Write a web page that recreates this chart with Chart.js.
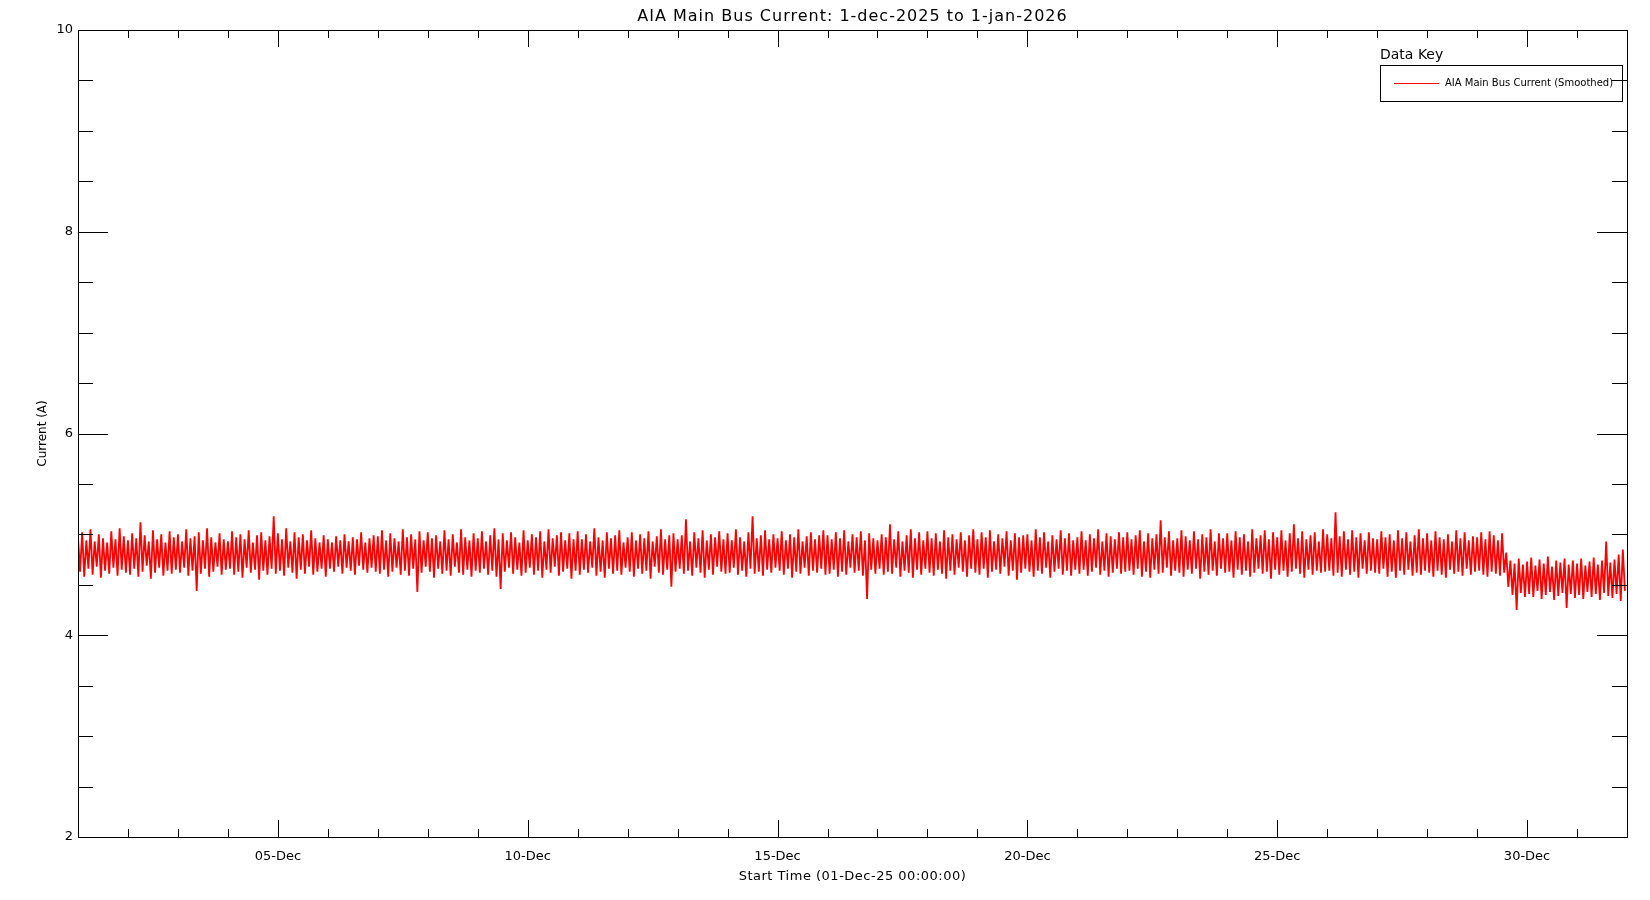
<!DOCTYPE html>
<html>
<head>
<meta charset="utf-8">
<title>AIA Main Bus Current</title>
<script src="https://cdn.jsdelivr.net/npm/chart.js@4.4.1/dist/chart.umd.min.js"></script>
<style>
  body { margin: 0; background: #fff; }
  canvas { display: block; }
</style>
</head>
<body>
<canvas id="busChart" width="1650" height="900"></canvas>
<script>
// Hourly smoothed readings (A), starting 01-Dec-2025 00:00, one row per day.
// Values swing between the top and bottom of the noise band, as in the plot.
const busCurrent = [
  4.97,4.63,5.02,4.58,4.94,4.66,5.05,4.60,4.93,4.68,5.00,4.57,4.96,4.64,4.92,4.61,5.03,4.67,4.95,4.59,5.06,4.65,4.98,4.62,
  4.94,4.60,5.01,4.66,4.96,4.58,5.12,4.63,4.99,4.69,4.93,4.56,5.04,4.62,4.95,4.67,5.00,4.59,4.92,4.64,5.03,4.61,4.97,4.65,
  5.00,4.62,4.93,4.67,5.05,4.59,4.96,4.64,4.98,4.44,5.02,4.61,4.94,4.66,5.06,4.58,4.97,4.63,4.92,4.68,5.01,4.60,4.95,4.65,
  4.93,4.66,5.03,4.60,4.97,4.63,5.00,4.57,4.95,4.67,5.04,4.62,4.92,4.65,4.99,4.55,5.02,4.64,4.94,4.60,4.98,4.66,5.18,4.61,
  5.01,4.64,4.95,4.59,5.06,4.67,4.93,4.62,5.02,4.56,4.97,4.65,5.00,4.61,4.94,4.68,5.04,4.60,4.96,4.63,4.92,4.66,4.99,4.58,
  4.95,4.66,4.92,4.63,4.98,4.68,4.94,4.61,5.00,4.67,4.93,4.64,4.97,4.60,4.95,4.69,5.02,4.65,4.92,4.62,4.96,4.67,4.99,4.63,
  4.98,4.61,5.04,4.65,4.94,4.58,5.01,4.63,4.96,4.67,4.93,4.60,5.05,4.64,4.97,4.59,5.00,4.66,4.95,4.43,5.03,4.62,4.94,4.68,
  5.02,4.63,4.96,4.57,4.99,4.66,4.93,4.61,5.04,4.64,4.95,4.59,5.00,4.68,4.92,4.62,5.05,4.60,4.97,4.65,4.94,4.58,5.01,4.64,
  4.96,4.62,5.03,4.66,4.93,4.60,4.99,4.64,5.06,4.58,4.95,4.46,5.01,4.63,4.94,4.67,5.02,4.61,4.97,4.65,4.92,4.59,5.04,4.62,
  4.94,4.67,5.00,4.60,4.97,4.64,5.03,4.57,4.93,4.65,5.05,4.62,4.96,4.68,4.99,4.59,5.02,4.63,4.94,4.66,5.01,4.56,4.95,4.64,
  5.03,4.60,4.95,4.65,5.00,4.62,4.93,4.67,5.06,4.59,4.97,4.63,4.94,4.57,5.02,4.66,4.96,4.61,4.99,4.64,5.04,4.60,4.92,4.67,
  4.97,4.63,5.02,4.58,4.94,4.66,5.00,4.61,4.96,4.64,5.03,4.56,4.93,4.68,4.98,4.62,5.05,4.60,4.95,4.65,4.99,4.48,5.01,4.63,
  4.95,4.66,4.99,4.61,5.15,4.64,4.93,4.59,5.02,4.67,4.96,4.62,5.04,4.57,4.94,4.65,5.00,4.60,4.97,4.68,5.03,4.63,4.95,4.61,
  5.01,4.62,4.94,4.67,5.05,4.60,4.97,4.64,4.93,4.58,5.02,4.66,5.18,4.61,4.96,4.63,4.99,4.59,5.04,4.65,4.95,4.62,5.00,4.67,
  4.96,4.64,5.03,4.60,4.94,4.66,5.00,4.57,4.97,4.63,5.05,4.61,4.93,4.67,4.98,4.59,5.02,4.64,4.95,4.62,4.99,4.66,5.04,4.60,
  4.99,4.61,4.95,4.65,5.02,4.58,4.96,4.63,5.04,4.60,4.93,4.67,5.00,4.62,4.97,4.64,5.03,4.59,4.94,4.36,5.01,4.65,4.96,4.61,
  4.94,4.66,5.00,4.60,4.97,4.63,5.10,4.61,4.95,4.67,5.03,4.58,4.93,4.64,4.99,4.62,5.05,4.57,4.96,4.65,5.02,4.60,4.94,4.66,
  5.03,4.62,4.96,4.59,5.01,4.65,4.93,4.61,5.04,4.56,4.97,4.64,5.00,4.60,4.95,4.67,5.02,4.63,4.94,4.58,4.99,4.66,5.05,4.62,
  4.95,4.60,5.02,4.66,4.97,4.57,5.04,4.63,4.93,4.65,5.00,4.61,4.96,4.68,5.03,4.59,4.94,4.64,5.01,4.55,4.97,4.62,4.99,4.66,
  5.00,4.63,4.94,4.58,5.05,4.64,4.97,4.61,5.02,4.67,4.93,4.57,4.99,4.63,4.95,4.66,5.04,4.60,4.96,4.64,5.01,4.59,4.94,4.65,
  4.97,4.61,5.03,4.65,4.94,4.59,5.00,4.63,4.96,4.67,5.05,4.60,4.93,4.64,5.01,4.58,4.98,4.62,4.95,4.66,5.02,4.61,4.97,4.63,
  5.02,4.64,4.95,4.60,4.99,4.66,5.04,4.58,4.93,4.63,5.01,4.57,4.96,4.65,5.00,4.61,5.14,4.62,4.97,4.67,5.03,4.59,4.94,4.64,
  4.96,4.62,5.04,4.58,4.98,4.65,4.94,4.61,5.03,4.66,4.95,4.56,5.00,4.63,4.97,4.60,5.05,4.64,4.93,4.59,5.01,4.66,4.96,4.62,
  5.01,4.63,4.94,4.57,5.03,4.65,4.97,4.60,5.00,4.64,4.93,4.58,5.05,4.62,4.96,4.66,4.99,4.61,5.04,4.63,4.95,4.56,5.02,4.65,
  4.97,4.60,5.04,4.64,4.94,4.58,5.01,4.63,5.10,4.66,4.96,4.61,5.03,4.57,4.95,4.65,4.99,4.60,5.02,4.64,4.93,4.62,5.05,4.63,
  5.00,4.64,4.96,4.59,5.22,4.62,4.98,4.58,5.03,4.65,4.95,4.60,5.04,4.63,4.97,4.57,5.01,4.66,4.94,4.61,5.02,4.64,4.96,4.62,
  4.95,4.61,5.03,4.66,4.97,4.58,5.00,4.63,4.94,4.57,5.04,4.64,4.96,4.60,5.02,4.65,4.93,4.59,4.99,4.62,5.05,4.60,4.96,4.64,
  5.01,4.62,4.94,4.58,5.03,4.64,4.97,4.60,4.95,4.57,5.00,4.65,4.93,4.61,5.04,4.63,4.96,4.59,5.02,4.66,4.94,4.60,4.98,4.63,
  4.97,4.64,5.02,4.60,4.95,4.58,5.03,4.63,4.99,4.61,4.94,4.59,5.01,4.62,4.82,4.48,4.74,4.40,4.71,4.25,4.76,4.42,4.70,4.38,
  4.73,4.41,4.77,4.38,4.69,4.44,4.75,4.36,4.71,4.40,4.78,4.43,4.68,4.35,4.74,4.39,4.72,4.42,4.76,4.27,4.70,4.41,4.74,4.37,
  4.71,4.40,4.76,4.36,4.69,4.43,4.73,4.38,4.77,4.41,4.70,4.35,4.74,4.42,4.93,4.39,4.72,4.37,4.75,4.41,4.80,4.34,4.85,4.44
];

// x axis is days since 01-Dec-25 00:00
const dayTicks = [1,2,3,4,5,6,7,8,9,10,11,12,13,14,15,16,17,18,19,20,21,22,23,24,25,26,27,28,29,30];
const majorDays = [4, 9, 14, 19, 24, 29];
const majorDayLabels = ['05-Dec', '10-Dec', '15-Dec', '20-Dec', '25-Dec', '30-Dec'];
const yTicks = [2,2.5,3,3.5,4,4.5,5,5.5,6,6.5,7,7.5,8,8.5,9,9.5,10];
const yLabelled = [2, 4, 6, 8, 10];

const FONT = 'DejaVu Sans, Liberation Sans, sans-serif';

const points = busCurrent.map((v, i) => ({ x: i / 24, y: v }));

// frame, in-facing ticks on all four sides, titles and the data key
const framePlugin = {
    id: 'idlFrame',
    afterDraw(chart) {
        const ctx = chart.ctx;
        const a = chart.chartArea;
        const xs = chart.scales.x, ys = chart.scales.y;
        ctx.save();
        ctx.strokeStyle = '#000';
        ctx.lineWidth = 1;
        ctx.strokeRect(Math.round(a.left) + 0.5, Math.round(a.top) + 0.5,
                       Math.round(a.right - a.left), Math.round(a.bottom - a.top));

        ctx.beginPath();
        dayTicks.forEach(d => {
            const px = Math.round(xs.getPixelForValue(d)) + 0.5;
            const len = majorDays.includes(d) ? 17 : 8;
            ctx.moveTo(px, a.bottom); ctx.lineTo(px, a.bottom - len);
            ctx.moveTo(px, a.top); ctx.lineTo(px, a.top + len);
        });
        yTicks.forEach(v => {
            const py = Math.round(ys.getPixelForValue(v)) + 0.5;
            const len = yLabelled.includes(v) ? 30 : 15;
            ctx.moveTo(a.left, py); ctx.lineTo(a.left + len, py);
            ctx.moveTo(a.right, py); ctx.lineTo(a.right - len, py);
        });
        ctx.stroke();

        ctx.fillStyle = '#000';
        ctx.textAlign = 'center';
        ctx.textBaseline = 'middle';
        ctx.letterSpacing = '1px';
        ctx.font = '16px ' + FONT;
        ctx.fillText('AIA Main Bus Current: 1-dec-2025 to 1-jan-2026', (a.left + a.right) / 2, 17);
        ctx.letterSpacing = '0.5px';
        ctx.font = '13px ' + FONT;
        ctx.fillText('Start Time (01-Dec-25 00:00:00)', (a.left + a.right) / 2, 877);
        ctx.letterSpacing = '0px';

        ctx.save();
        ctx.translate(43, (a.top + a.bottom) / 2);
        ctx.rotate(-Math.PI / 2);
        ctx.font = '12px ' + FONT;
        ctx.fillText('Current (A)', 0, 0);
        ctx.restore();

        // data key
        ctx.textAlign = 'left';
        ctx.font = '14px ' + FONT;
        ctx.fillText('Data Key', 1380, 55);
        ctx.strokeRect(1380.5, 65.5, 242, 36);
        ctx.strokeStyle = '#ff0000';
        ctx.beginPath();
        ctx.moveTo(1394, 83.5); ctx.lineTo(1439, 83.5);
        ctx.stroke();
        ctx.font = '10px ' + FONT;
        ctx.fillText('AIA Main Bus Current (Smoothed)', 1445, 83);
        ctx.restore();
    }
};

const ctx = document.getElementById('busChart').getContext('2d');
new Chart(ctx, {
    type: 'line',
    data: {
        datasets: [{
            label: 'AIA Main Bus Current (Smoothed)',
            data: points,
            borderColor: '#ff0000',
            borderWidth: 1.8,
            pointRadius: 0,
            tension: 0,
            fill: false
        }]
    },
    options: {
        responsive: false,
        animation: false,
        layout: { padding: { top: 30, right: 23, left: 0, bottom: 0 } },
        plugins: {
            legend: { display: false },
            tooltip: { enabled: false }
        },
        scales: {
            x: {
                type: 'linear',
                min: 0,
                max: 31,
                grid: { display: false, drawTicks: false },
                border: { display: false },
                afterBuildTicks: s => { s.ticks = dayTicks.map(v => ({ value: v })); },
                afterFit: s => { s.height = 63; },
                ticks: {
                    autoSkip: false,
                    maxRotation: 0,
                    padding: 12,
                    color: '#000',
                    font: { family: FONT, size: 13 },
                    callback: v => {
                        const k = majorDays.indexOf(v);
                        return k >= 0 ? majorDayLabels[k] : '';
                    }
                }
            },
            y: {
                min: 2,
                max: 10,
                grid: { display: false, drawTicks: false },
                border: { display: false },
                afterBuildTicks: s => { s.ticks = yTicks.map(v => ({ value: v })); },
                afterFit: s => { s.width = 78; },
                ticks: {
                    autoSkip: false,
                    padding: 5,
                    color: '#000',
                    font: { family: FONT, size: 13 },
                    callback: v => yLabelled.includes(v) ? String(v) : ''
                }
            }
        }
    },
    plugins: [framePlugin]
});
</script>
</body>
</html>
